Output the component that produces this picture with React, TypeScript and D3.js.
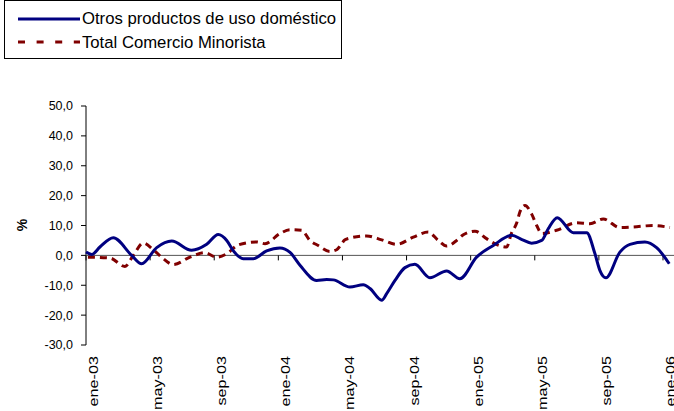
import React from "react";
import * as d3 from "d3";

// months counted from ene-03 (0) to ene-06 (36)
const etiquetasX = ["ene-03", "may-03", "sep-03", "ene-04", "may-04", "sep-04", "ene-05", "may-05", "sep-05", "ene-06"];
const mesesEtiquetas = [0, 4, 8, 12, 16, 20, 24, 28, 32, 36];
const yTicks = [-30, -20, -10, 0, 10, 20, 30, 40, 50];

const otrosProductos: [number, number][] = [
  [0, 1.1], [0.36, 0.3], [0.87, 2.8], [1.7, 5.9], [2.85, 0], [3.47, -2.8], [4.41, 2.6],
  [5.35, 4.8], [6.59, 1.7], [7.53, 3.7], [8.25, 7.0], [8.78, 5.0], [9.17, 1.7], [9.81, -1.1],
  [10.44, -1.1], [11.27, 1.5], [12.1, 2.5], [12.73, 1.0], [13.35, -3.3], [14.39, -8.4],
  [15.02, -8.1], [15.43, -8.2], [16.47, -10.6], [17.3, -9.8], [17.72, -11.1], [18.45, -15.0],
  [18.76, -12.8], [19.28, -8.4], [19.9, -4.1], [20.52, -3.0], [21.46, -7.5], [22.5, -5.2],
  [23.33, -7.8], [24.37, -0.6], [25.41, 3.3], [26.56, 6.7], [27.2, 5.3], [27.8, 4.1],
  [28.43, 5.0], [28.84, 8.9], [29.4, 12.6], [30.4, 7.6], [31.24, 7.6], [31.75, 0.6],
  [32.06, -5.0], [32.44, -7.5], [33.31, 1.1], [33.94, 3.7], [34.87, 4.5], [35.6, 2.6],
  [36.39, -2.8],
];

const totalComercio: [number, number][] = [
  [0.12, -0.6], [1.5, -0.9], [2.43, -3.7], [2.95, 0], [3.57, 4.1], [4.2, 1.9], [4.82, -1.1],
  [5.45, -3.1], [6.49, -0.6], [7.42, 0.9], [8.15, -0.6], [8.8, 0.6], [9.5, 3.5], [10.65, 4.5],
  [11.17, 3.9], [12.1, 7.3], [12.73, 8.6], [13.46, 8.4], [13.97, 5.0], [14.49, 3.3],
  [15.22, 1.3], [15.64, 1.9], [16.16, 5.2], [16.47, 5.8], [17.51, 6.5], [18.45, 5.2],
  [19.38, 3.7], [20.42, 6.1], [21.35, 7.8], [21.98, 5.0], [22.5, 3.1], [23.13, 5.0],
  [23.54, 6.9], [24.27, 8.1], [24.99, 5.6], [25.51, 3.9], [26.24, 2.8], [26.55, 7.5],
  [26.87, 10.8], [27.07, 14.5], [27.39, 16.7], [27.8, 13.9], [28.12, 10.0], [28.43, 7.3],
  [29.36, 8.4], [30.61, 10.9], [31.44, 10.6], [32.27, 12.2], [33.31, 9.3], [34.14, 9.5],
  [35.39, 10.0], [36.43, 9.3],
];

const serieAzul = "Otros productos de uso doméstico";
const serieRoja = "Total Comercio Minorista";

const font = "Arial, 'Liberation Sans', sans-serif";
const azul = "#000080";
const rojo = "#800000";

const locale = d3.formatLocale({ decimal: ",", thousands: ".", grouping: [3], currency: ["", ""], minus: "-" });
const fmt = locale.format(".1f");

export default function App() {
  const width = 674;
  const height = 411;
  const marginLeft = 86;
  const plotRight = 663;
  const plotTop = 106;
  const plotBottom = 345;

  const x = d3.scaleLinear().domain([0, 36]).range([marginLeft, plotRight]);
  const y = d3.scaleLinear().domain([-30, 50]).range([plotBottom, plotTop]);

  const line = d3.line<[number, number]>()
    .x(d => x(d[0]))
    .y(d => y(d[1]))
    .curve(d3.curveMonotoneX);

  return (
    <svg width={width} height={height} style={{ position: "absolute", left: 0, top: 0, background: "white" }} fontFamily={font}>
      {/* legend */}
      <rect x={4.5} y={0.5} width={337} height={58} fill="white" stroke="#000" strokeWidth={1} />
      <line x1={18} x2={80} y1={19} y2={19} stroke={azul} strokeWidth={3} />
      <text x={82} y={24} fontSize={16.7} fill="#000">{serieAzul}</text>
      <line x1={18} x2={80} y1={42} y2={42} stroke={rojo} strokeWidth={3} strokeDasharray="7,11.6" />
      <text x={82} y={47.5} fontSize={16.7} fill="#000">{serieRoja}</text>

      {/* y axis */}
      <line x1={marginLeft} x2={marginLeft} y1={plotTop} y2={plotBottom} stroke="#000" strokeWidth={1} />
      {yTicks.map(t => (
        <g key={t}>
          <line x1={marginLeft - 5} x2={marginLeft} y1={y(t)} y2={y(t)} stroke="#000" />
          <text x={73} y={y(t)} dy="0.35em" textAnchor="end" fontSize={12.5} fill="#000">{fmt(t)}</text>
        </g>
      ))}
      <text transform="translate(27,225) rotate(-90)" textAnchor="middle" fontSize={14} fontWeight="bold">%</text>

      {/* x axis on zero */}
      <line x1={marginLeft} x2={width} y1={y(0)} y2={y(0)} stroke="#555" strokeWidth={1} />
      {mesesEtiquetas.map((m, i) => (
        <g key={m}>
          <line x1={x(m)} x2={x(m)} y1={y(0)} y2={y(0) + 5} stroke="#000" />
          <text
            transform={`translate(${x(m) + 12},356) rotate(-90) scale(1.2,1)`}
            textAnchor="end"
            fontSize={13.5}
            fill="#000"
          >{etiquetasX[i]}</text>
        </g>
      ))}

      {/* series */}
      <path d={line(totalComercio) ?? ""} fill="none" stroke={rojo} strokeWidth={3} strokeDasharray="7,5" />
      <path d={line(otrosProductos) ?? ""} fill="none" stroke={azul} strokeWidth={3} />
    </svg>
  );
}
